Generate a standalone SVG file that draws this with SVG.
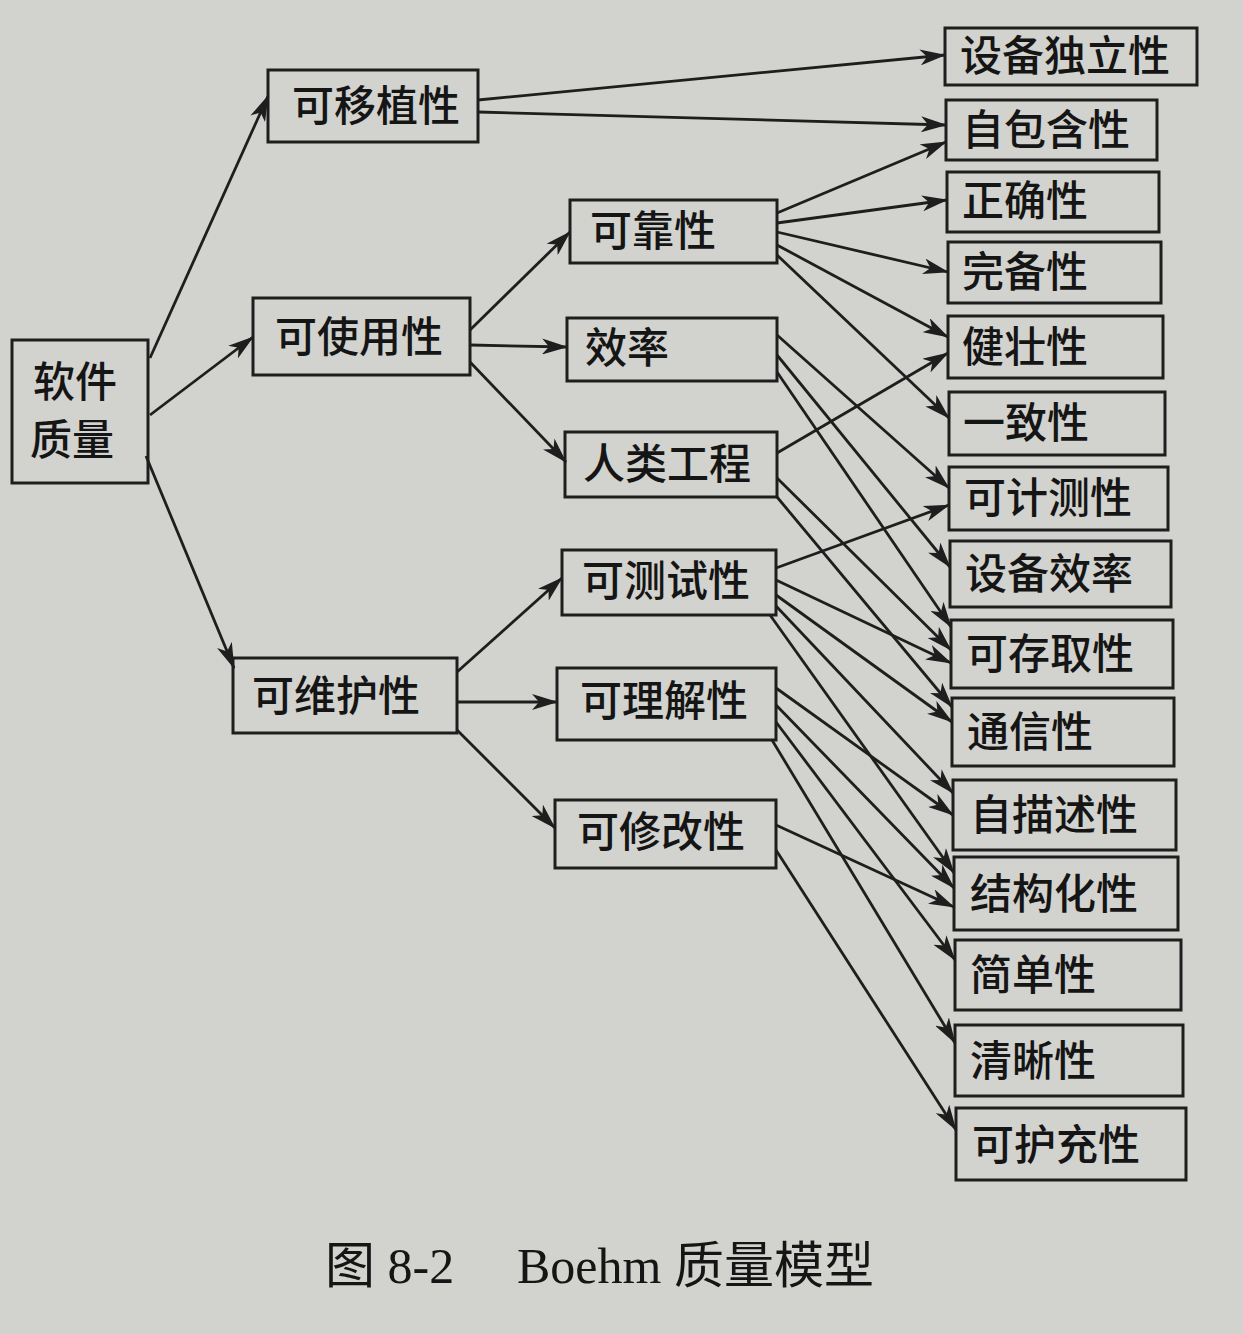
<svg xmlns="http://www.w3.org/2000/svg" width="1243" height="1334" viewBox="0 0 1243 1334">
<defs>
<marker id="ah" markerUnits="userSpaceOnUse" markerWidth="28" markerHeight="16" refX="25" refY="8" orient="auto">
<path d="M0,0 L26,8 L0,16 L7,8 z" fill="#1e1e1e"/>
</marker>
<style>
.box{fill:none;stroke:#1e1e1e;stroke-width:3}
.t{font-family:"Noto Sans CJK SC","Noto Sans CJK JP",sans-serif;font-size:42px;font-weight:500;fill:#151515}
.e{fill:none;stroke:#1e1e1e;stroke-width:2.8;marker-end:url(#ah)}
.cap{font-family:"Liberation Serif","Noto Sans CJK SC",serif;font-size:50px;fill:#151515}
</style>
</defs>
<rect x="0" y="0" width="1243" height="1334" fill="#d2d2ce"/>
<g id="connectors">
<line class="e" x1="150" y1="358" x2="268" y2="96"/>
<line class="e" x1="150" y1="415" x2="253" y2="337"/>
<line class="e" x1="146" y1="456" x2="234" y2="668"/>
<line class="e" x1="470" y1="330" x2="570" y2="232"/>
<line class="e" x1="470" y1="345" x2="567" y2="347"/>
<line class="e" x1="470" y1="362" x2="566" y2="462"/>
<line class="e" x1="457" y1="672" x2="562" y2="578"/>
<line class="e" x1="457" y1="702" x2="557" y2="702"/>
<line class="e" x1="457" y1="730" x2="555" y2="828"/>
<line class="e" x1="478" y1="100" x2="945" y2="55"/>
<line class="e" x1="478" y1="112" x2="946" y2="125"/>
<line class="e" x1="777" y1="213" x2="946" y2="142"/>
<line class="e" x1="777" y1="223" x2="947" y2="200"/>
<line class="e" x1="777" y1="232" x2="948" y2="272"/>
<line class="e" x1="777" y1="245" x2="948" y2="337"/>
<line class="e" x1="777" y1="255" x2="949" y2="418"/>
<line class="e" x1="777" y1="335" x2="949" y2="488"/>
<line class="e" x1="777" y1="355" x2="950" y2="567"/>
<line class="e" x1="777" y1="372" x2="951" y2="627"/>
<line class="e" x1="777" y1="453" x2="948" y2="353"/>
<line class="e" x1="777" y1="478" x2="951" y2="650"/>
<line class="e" x1="777" y1="497" x2="952" y2="707"/>
<line class="e" x1="776" y1="568" x2="949" y2="505"/>
<line class="e" x1="776" y1="580" x2="951" y2="663"/>
<line class="e" x1="776" y1="595" x2="952" y2="722"/>
<line class="e" x1="776" y1="606" x2="953" y2="793"/>
<line class="e" x1="770" y1="615" x2="954" y2="873"/>
<line class="e" x1="776" y1="688" x2="953" y2="815"/>
<line class="e" x1="776" y1="705" x2="954" y2="888"/>
<line class="e" x1="776" y1="722" x2="955" y2="960"/>
<line class="e" x1="772" y1="740" x2="955" y2="1043"/>
<line class="e" x1="776" y1="825" x2="954" y2="907"/>
<line class="e" x1="776" y1="850" x2="956" y2="1130"/>
</g>
<g id="n-rjzl"><rect class="box" x="12" y="340" width="136" height="143"/><text class="t" x="33" y="397">软件</text><text class="t" x="30" y="455">质量</text></g>
<g id="n-kyzx"><rect class="box" x="268" y="70" width="210" height="72"/><text class="t" x="292" y="121">可移植性</text></g>
<g id="n-ksyx"><rect class="box" x="253" y="298" width="217" height="77"/><text class="t" x="275" y="352">可使用性</text></g>
<g id="n-kwhx"><rect class="box" x="233" y="658" width="224" height="75"/><text class="t" x="252" y="711">可维护性</text></g>
<g id="n-kkx"><rect class="box" x="570" y="200" width="207" height="63"/><text class="t" x="590" y="246">可靠性</text></g>
<g id="n-xl"><rect class="box" x="567" y="318" width="210" height="63"/><text class="t" x="585" y="363">效率</text></g>
<g id="n-rlgc"><rect class="box" x="565" y="432" width="212" height="65"/><text class="t" x="583" y="479">人类工程</text></g>
<g id="n-kcsx"><rect class="box" x="562" y="550" width="214" height="65"/><text class="t" x="582" y="596">可测试性</text></g>
<g id="n-kljx"><rect class="box" x="557" y="668" width="219" height="72"/><text class="t" x="580" y="716">可理解性</text></g>
<g id="n-kxgx"><rect class="box" x="555" y="800" width="221" height="68"/><text class="t" x="577" y="847">可修改性</text></g>
<g id="n-sbdlx"><rect class="box" x="945" y="28" width="252" height="57"/><text class="t" x="960" y="71">设备独立性</text></g>
<g id="n-zbhx"><rect class="box" x="946" y="100" width="211" height="60"/><text class="t" x="962" y="145">自包含性</text></g>
<g id="n-zqx"><rect class="box" x="947" y="172" width="212" height="60"/><text class="t" x="962" y="216">正确性</text></g>
<g id="n-wbx"><rect class="box" x="948" y="242" width="213" height="61"/><text class="t" x="962" y="287">完备性</text></g>
<g id="n-jzx"><rect class="box" x="948" y="316" width="215" height="62"/><text class="t" x="962" y="362">健壮性</text></g>
<g id="n-yzx"><rect class="box" x="949" y="392" width="216" height="63"/><text class="t" x="963" y="438">一致性</text></g>
<g id="n-kjcx"><rect class="box" x="949" y="467" width="219" height="63"/><text class="t" x="964" y="513">可计测性</text></g>
<g id="n-sbxl"><rect class="box" x="950" y="541" width="221" height="66"/><text class="t" x="965" y="589">设备效率</text></g>
<g id="n-kcqx"><rect class="box" x="951" y="620" width="222" height="68"/><text class="t" x="966" y="669">可存取性</text></g>
<g id="n-txx"><rect class="box" x="952" y="698" width="222" height="68"/><text class="t" x="967" y="747">通信性</text></g>
<g id="n-zmsx"><rect class="box" x="953" y="780" width="223" height="70"/><text class="t" x="970" y="830">自描述性</text></g>
<g id="n-jghx"><rect class="box" x="954" y="857" width="224" height="73"/><text class="t" x="970" y="909">结构化性</text></g>
<g id="n-jdx"><rect class="box" x="955" y="940" width="226" height="70"/><text class="t" x="970" y="990">简单性</text></g>
<g id="n-qxx"><rect class="box" x="955" y="1025" width="228" height="71"/><text class="t" x="970" y="1076">清晰性</text></g>
<g id="n-khcx"><rect class="box" x="956" y="1108" width="230" height="72"/><text class="t" x="972" y="1160">可护充性</text></g>
<text class="cap" x="325" y="1283">图 8-2<tspan x="517">Boehm 质量模型</tspan></text>
</svg>
